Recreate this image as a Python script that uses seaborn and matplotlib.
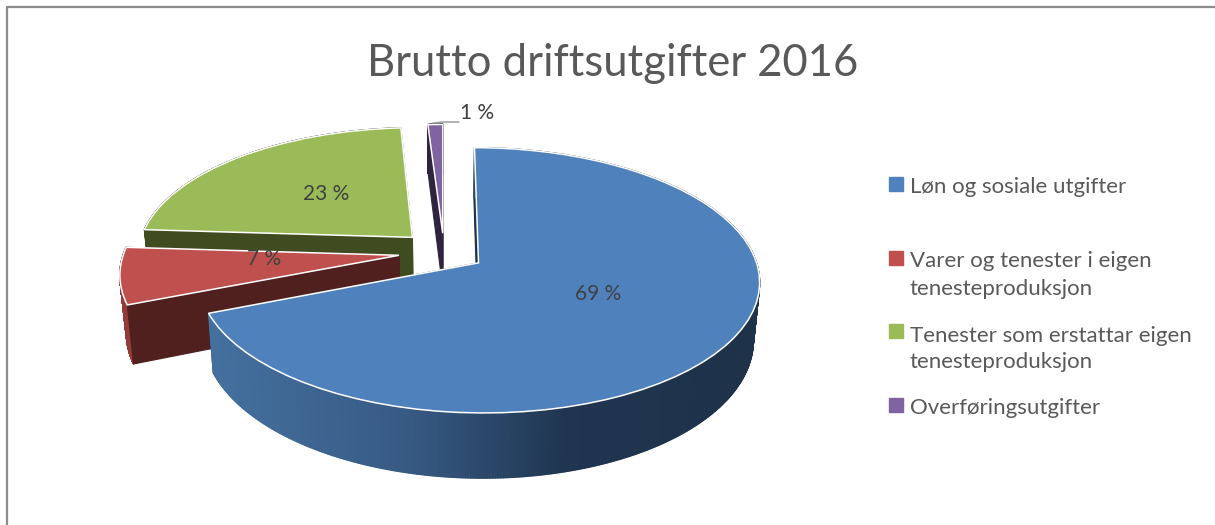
import numpy as np
import matplotlib
matplotlib.use("Agg")
import matplotlib.pyplot as plt
import seaborn as sns
from matplotlib.collections import PolyCollection
from matplotlib.colors import LinearSegmentedColormap
from matplotlib.lines import Line2D
from matplotlib.transforms import Transform

# data
title = "Brutto driftsutgifter 2016"
legend_lines = [
    ["Løn og sosiale utgifter"],
    ["Varer og tenester i eigen", "tenesteproduksjon"],
    ["Tenester som erstattar eigen", "tenesteproduksjon"],
    ["Overføringsutgifter"],
]
shares = [69, 7, 23, 1]
explode = [0.15, 0.165, 0.165, 0.15]

# styles
top_colors = ["#4F81BD", "#C0504D", "#9BBB59", "#8064A2"]
side_colors = ["#1B3049", "#4F201D", "#3F4C1F", "#2E2440"]
arc_colors = [None, "#943C3A", "#3F4C1F", "#2E2440"]
draw_order = [2, 3, 1, 0]  # green and purple at the back, blue in front

# layout, in pixels of the 1215x525 picture
label_pos = [(598, 294), (264, 259), (326, 194), (477, 113)]
legend_box_y = [184, 258, 331, 405]
legend_base_y = [[193], [267, 295], [342, 368], [414]]

# camera for the tilted pie
X0, Y0, BX, AY, K, DEPTH, SHRINK = 444, 252, 275, 127.5, 0.13, 56, 0.02


def project(u, v, z=0.0):
    d = 1 + K * v
    x = X0 + BX * u / d * (1 - SHRINK * z)
    y = Y0 - (AY * v - DEPTH * z) / d
    return x, y


class Tilt(Transform):
    input_dims = 2
    output_dims = 2

    def transform_non_affine(self, values):
        values = np.asarray(values)
        x, y = project(values[:, 0], values[:, 1])
        return np.column_stack([x, y])


sns.set_theme(style="white")
plt.rcParams["font.family"] = ["Lato", "DejaVu Sans"]

fig = plt.figure(figsize=(12.15, 5.25), dpi=100, facecolor="white")
ax = fig.add_axes([0, 0, 1, 1])

wedges, _ = ax.pie(shares, explode=explode, colors=sns.color_palette(top_colors),
                   startangle=90, counterclock=False, radius=1,
                   wedgeprops={"edgecolor": "white", "linewidth": 1.1})
ax.set_aspect("auto")
ax.set_xlim(0, 1215)
ax.set_ylim(525, 0)
ax.axis("off")

blue_side = LinearSegmentedColormap.from_list(
    "blue_side", [(0, "#44709F"), (0.36, "#375A83"), (0.65, "#1F3550"), (1, "#1E3249")])

for rank, i in enumerate(draw_order):
    w = wedges[i]
    cu, cv = w.center
    t1, t2 = np.radians(w.theta1), np.radians(w.theta2)
    ang = np.linspace(t1, t2, 500)
    u = cu + w.r * np.cos(ang)
    v = cv + w.r * np.sin(ang)
    xt, yt = project(u, v, 0)
    xb, yb = project(u, v, 1)

    # outer wall
    quads = [[(xt[j], yt[j]), (xt[j + 1], yt[j + 1]), (xb[j + 1], yb[j + 1]), (xb[j], yb[j])]
             for j in range(len(ang) - 1)]
    if i == 0:
        cols = blue_side((xt[:-1] - 210) / 550)
    else:
        cols = arc_colors[i]
    ax.add_collection(PolyCollection(quads, facecolors=cols, edgecolors=cols, linewidths=1.0,
                                     zorder=rank + 1))

    # cut faces; the blue slice has its hidden face behind the wall
    ax_, ay_ = project(cu, cv, 0)
    bx_, by_ = project(cu, cv, 1)
    face_z = rank + 0.9 if i == 0 else rank + 1.1
    for e in (0, -1):
        face = [(ax_, ay_), (xt[e], yt[e]), (xb[e], yb[e]), (bx_, by_)]
        ax.add_patch(plt.Polygon(face, closed=True, facecolor=side_colors[i], edgecolor=side_colors[i],
                                 linewidth=0.8, zorder=face_z))

    # top of the slice
    w.set_transform(Tilt() + ax.transData)
    w.set_zorder(rank + 1.2)

for value, (x, y) in zip(shares, label_pos):
    ax.text(x, y, f"{value} %", ha="center", va="center", fontsize=15, color="#404040", zorder=10)

# leader line for the smallest slice
ax.plot([433, 443, 459], [123, 122, 122], color="#A6A6A6", lw=1.2, zorder=9)

# legend
for color, box_y, lines, bases in zip(top_colors, legend_box_y, legend_lines, legend_base_y):
    ax.plot([896], [box_y], marker="s", ms=9.6, color=color, ls="none", zorder=10)
    for text, base in zip(lines, bases):
        ax.text(910, base, text, ha="left", va="baseline", fontsize=16, color="#595959", zorder=10)

fig.suptitle(title, x=613 / 1215, y=1 - 63 / 525, ha="center", va="center",
             fontsize=31.4, color="#595959")

# chart frame, only the top and left edges are in the crop
fig.add_artist(Line2D([7 / 1215, 7 / 1215, 1], [0, 1 - 7 / 525, 1 - 7 / 525], color="#8C8C8C", lw=1.6))

fig.savefig("out.png", dpi=100)
